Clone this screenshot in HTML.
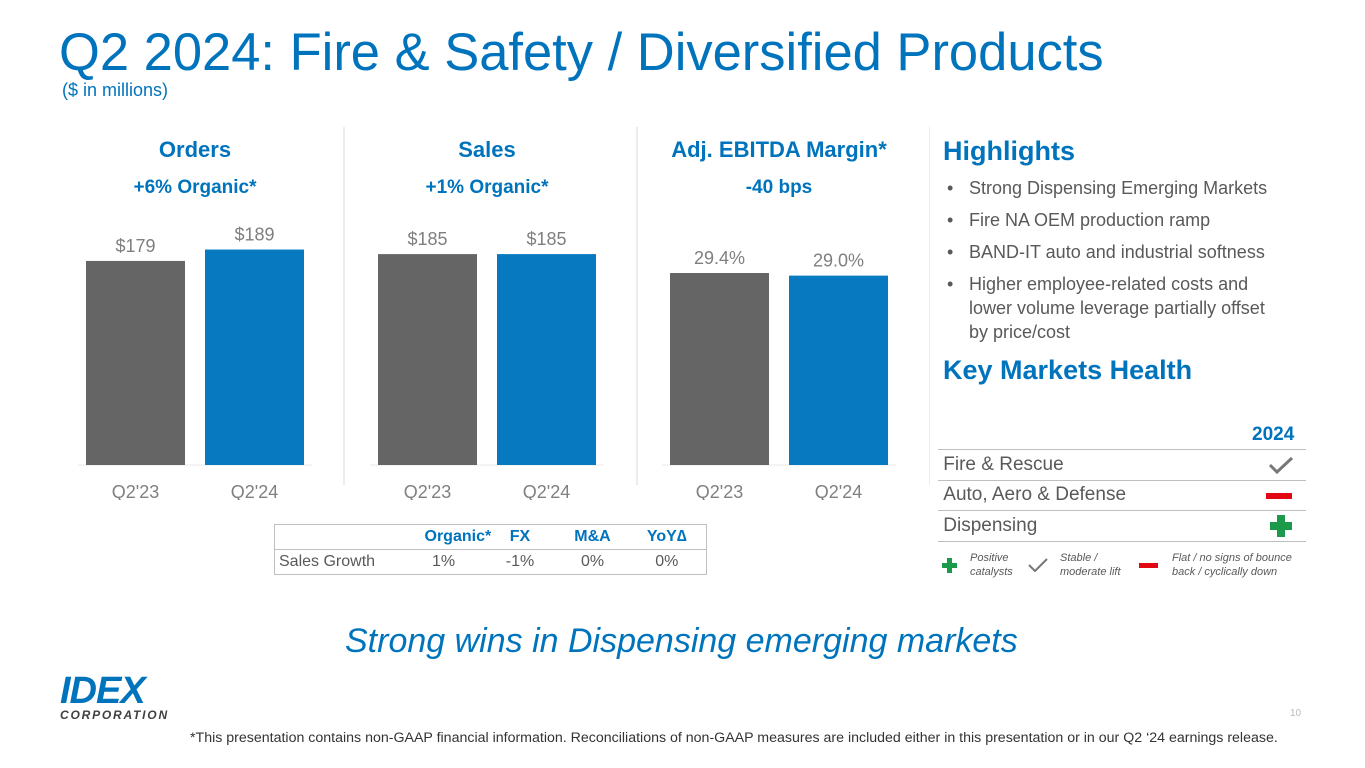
<!DOCTYPE html>
<html><head><meta charset="utf-8"><style>
body{margin:0;width:1365px;height:768px;background:#fff;font-family:"Liberation Sans",Arial,sans-serif;position:relative;overflow:hidden}
.a{position:absolute;white-space:nowrap}
.b{color:#0073bd}
ul{margin:0;padding:0;list-style:none}
li{position:relative;padding-left:24px;font-size:18px;color:#595959;line-height:24px;margin-bottom:8px}
li:before{content:"•";position:absolute;left:2px}
.row{position:absolute;left:938px;width:368px;height:30px;border-bottom:1px solid #bfbfbf;font-size:19px;color:#595959;line-height:30px}
td{padding:0}
</style></head><body>
<div class="a b" style="left:59px;top:22px;font-size:52.5px">Q2 2024: Fire &amp; Safety / Diversified Products</div>
<div class="a b" style="left:62px;top:80px;font-size:18px">($ in millions)</div>
<svg id="ch" width="930" height="500" style="position:absolute;left:0;top:0"></svg>
<div class="a b" style="left:943px;top:136px;font-size:27px;font-weight:bold">Highlights</div>
<ul class="a" style="left:945px;top:176px;white-space:normal;width:345px">
<li>Strong Dispensing Emerging Markets</li>
<li>Fire NA OEM production ramp</li>
<li>BAND-IT auto and industrial softness</li>
<li>Higher employee-related costs and<br>lower volume leverage partially offset<br>by price/cost</li>
</ul>
<div class="a b" style="left:943px;top:355px;font-size:27px;font-weight:bold">Key Markets Health</div>
<div class="a b" style="left:1252px;top:424px;font-size:19px;font-weight:bold">2024</div>
<div class="row" style="top:449px;border-top:1px solid #bfbfbf">&nbsp;Fire &amp; Rescue<svg style="position:absolute;right:12px;top:6px" width="26" height="18"><path d="M2 9 L9 16 L24 2" stroke="#777" stroke-width="3" fill="none"/></svg></div>
<div class="row" style="top:480px">&nbsp;Auto, Aero &amp; Defense<div style="position:absolute;right:14px;top:13px;width:26px;height:6px;background:#e30613"></div></div>
<div class="row" style="top:511px">&nbsp;Dispensing<svg style="position:absolute;right:14px;top:4px" width="22" height="22"><path d="M7 0h8v7h7v8h-7v7h-8v-7h-7v-8h7z" fill="#1a9a4a"/></svg></div>
<svg class="a" style="left:942px;top:558px" width="15" height="15"><path d="M5 0h5v5h5v5h-5v5h-5v-5h-5v-5h5z" fill="#1a9a4a"/></svg>
<div class="a" style="left:970px;top:551px;font-size:11px;font-style:italic;color:#595959;line-height:14px">Positive<br>catalysts</div>
<svg class="a" style="left:1028px;top:558px" width="20" height="14"><path d="M1 7 L7 13 L19 1" stroke="#777" stroke-width="2" fill="none"/></svg>
<div class="a" style="left:1060px;top:551px;font-size:11px;font-style:italic;color:#595959;line-height:14px">Stable /<br>moderate lift</div>
<div class="a" style="left:1139px;top:563px;width:19px;height:5px;background:#e30613"></div>
<div class="a" style="left:1172px;top:551px;font-size:11px;font-style:italic;color:#595959;line-height:14px">Flat / no signs of bounce<br>back / cyclically down</div>
<table class="a" style="left:274px;top:524px;border-collapse:collapse;border:1px solid #bfbfbf;font-size:16px;color:#595959;width:432px;table-layout:fixed">
<colgroup><col style="width:130px"><col style="width:78px"><col style="width:75px"><col style="width:70px"><col style="width:79px"></colgroup>
<tr style="height:25px;border-bottom:1px solid #bfbfbf"><td></td><td class="b" style="font-weight:bold;text-align:center;padding-left:20px">Organic*</td><td class="b" style="font-weight:bold;text-align:center">FX</td><td class="b" style="font-weight:bold;text-align:center">M&amp;A</td><td class="b" style="font-weight:bold;text-align:center">YoY∆</td></tr>
<tr style="height:25px"><td style="padding-left:4px">Sales Growth</td><td style="text-align:center;padding-left:0">1%</td><td style="text-align:center">-1%</td><td style="text-align:center">0%</td><td style="text-align:center">0%</td></tr>
</table>
<div class="a b" style="left:345px;top:622px;font-size:34px;font-style:italic">Strong wins in Dispensing emerging markets</div>
<div class="a" style="left:60px;top:674px">
<div style="font-size:38px;font-weight:bold;font-style:italic;color:#0073bd;letter-spacing:-1px;line-height:34px">IDEX</div>
<div style="font-size:12px;font-weight:bold;font-style:italic;color:#404040;letter-spacing:1.8px">CORPORATION</div></div>
<div class="a" style="left:1290px;top:708px;font-size:10px;color:#bbb">10</div>
<div class="a" style="left:190px;top:730px;font-size:14.2px;color:#333">*This presentation contains non-GAAP financial information. Reconciliations of non-GAAP measures are included either in this presentation or in our Q2 ‘24 earnings release.</div>
<script>
const panelTitles=["Orders","Sales","Adj. EBITDA Margin*"];
const panelSubs=["+6% Organic*","+1% Organic*","-40 bps"];
const categories=["Q2'23","Q2'24"];
const ordersVals=[179,189];
const salesVals=[185,185];
const ebitdaVals=[29.4,29.0];
const valueLabels=[["$179","$189"],["$185","$185"],["29.4%","29.0%"]];
const svg=document.getElementById('ch');
const NS='http://www.w3.org/2000/svg';
function mk(t,a,txt){const e=document.createElementNS(NS,t);for(const k in a)e.setAttribute(k,a[k]);if(txt!=null)e.textContent=txt;svg.appendChild(e);return e;}
const panels=[{v:ordersVals,x0:86,s:1.14},{v:salesVals,x0:378,s:1.14},{v:ebitdaVals,x0:670,s:6.53}];
const base=465;
panels.forEach((p,i)=>{
  const cx=p.x0+109;
  let e=mk('text',{x:cx,y:157,'text-anchor':'middle','font-size':22,'font-weight':'bold',fill:'#0073bd'},panelTitles[i]);
  
  e=mk('text',{x:cx,y:193,'text-anchor':'middle','font-size':19,'font-weight':'bold',fill:'#0073bd'},panelSubs[i]);
  
  e=mk('line',{x1:p.x0-8,x2:p.x0+226,y1:base,y2:base,stroke:'#e8e8e8'});
  
  p.v.forEach((v,j)=>{
    const x=p.x0+j*119,h=v*p.s;
    const r=mk('rect',{x:x,y:base-h,width:99,height:h,fill:j?'#0679c1':'#656565'});
    
    
    const t=mk('text',{x:x+49.5,y:base-h-9,'text-anchor':'middle','font-size':18,fill:'#7f7f7f'},valueLabels[i][j]);
    
    
    const c=mk('text',{x:x+49.5,y:498,'text-anchor':'middle','font-size':18,fill:'#808080'},categories[j]);
    
    
  });
});
[344,637,930].forEach(x=>{const d=mk('line',{x1:x,x2:x,y1:127,y2:485,stroke:'#d9d9d9'});

});
</script>
</body></html>
